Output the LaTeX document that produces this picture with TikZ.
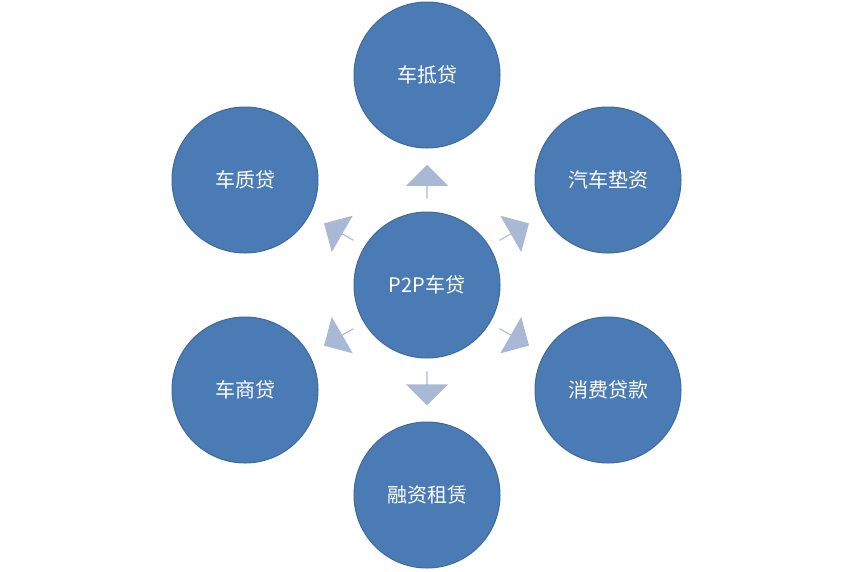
\documentclass[tikz,border=0pt]{standalone}
\usepackage{fontspec}
\setmainfont{Noto Sans CJK SC}
\usetikzlibrary{shapes.arrows}
\definecolor{cfill}{HTML}{4A7BB5}
\definecolor{cline}{HTML}{3F6A9C}
\definecolor{afill}{HTML}{A9B9D5}
\begin{document}
\begin{tikzpicture}[x=1pt,y=-1pt,
  circ/.style={circle,fill=cfill,draw=cline,line width=1pt,minimum size=146pt,inner sep=0pt,text=white,font=\fontsize{20}{24}\selectfont},
  blk/.style={single arrow,fill=afill,draw=none,minimum height=34pt,minimum width=42pt,single arrow head extend=8pt,inner sep=0pt}]
\useasboundingbox[fill=white] (0,0) rectangle (854,571);
\node[circ] (c) at (427,285) {P2P车贷};
\node[circ] (t) at (427,75) {车抵贷};
\node[circ] (ur) at (608,180) {汽车垫资};
\node[circ] (lr) at (608,390) {消费贷款};
\node[circ] (b) at (427,495) {融资租赁};
\node[circ] (ll) at (245,390) {车商贷};
\node[circ] (ul) at (245,180) {车质贷};
\node[blk,rotate=90] (a1) at (427,182) {};
\node[blk,rotate=30] (a2) at (514,232) {};
\node[blk,rotate=-30] (a3) at (514,337) {};
\node[blk,rotate=-90] (a4) at (427,388) {};
\node[blk,rotate=210] (a5) at (339,337) {};
\node[blk,rotate=150] (a6) at (339,232) {};
\end{tikzpicture}
\end{document}
